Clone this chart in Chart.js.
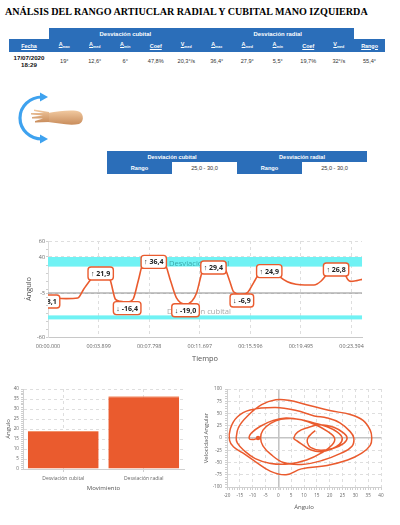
<!DOCTYPE html>
<html>
<head>
<meta charset="utf-8">
<script src="https://cdn.jsdelivr.net/npm/chart.js@4.4.0/dist/chart.umd.min.js"></script>
<style>
  body { margin:0; width:400px; height:525px; position:relative; overflow:hidden; background:#fff;
         font-family:"Liberation Sans", Arial, sans-serif; }
  .title { position:absolute; left:5px; top:6px; font-family:"Liberation Serif", serif; font-weight:bold;
           font-size:10.1px; white-space:nowrap; color:#000; }
  table { position:absolute; border-collapse:collapse; table-layout:fixed; }
  td { padding:0; text-align:center; white-space:nowrap; overflow:hidden; }
  .b { background:#2b6eb9; color:#fff; font-weight:bold; }
  .u { text-decoration:underline; }
  #t1 { left:9px; top:28px; width:376px; font-size:5.4px; }
  #t1 tr.top td { font-size:5.9px; }
  #t1 .data td { color:#333; font-size:5.6px; }
  #t1 .data td.date { color:#111; font-weight:bold; font-size:6.2px; line-height:7px; }
  #t2 { left:107px; top:151px; width:260px; font-size:5.6px; }
  #t2 td.w { background:#fff; color:#333; }
  canvas { position:absolute; }
</style>
</head>
<body>
<div class="title">ANÁLSIS DEL RANGO ARTIUCLAR RADIAL Y CUBITAL MANO IZQUIERDA</div>

<table id="t1"></table>

<svg style="position:absolute;left:12px;top:91px" width="80" height="56" viewBox="0 0 80 56">
  <defs>
    <linearGradient id="skin" x1="0" y1="0" x2="0" y2="1">
      <stop offset="0" stop-color="#f1c9a0"/>
      <stop offset="1" stop-color="#c98d5c"/>
    </linearGradient>
  </defs>
  <path d="M30 6 A22 21 0 0 0 30 48" fill="none" stroke="#3ea2ef" stroke-width="3.2"/>
  <path d="M28 1.5 L36 6 L28 10.5 Z" fill="#3ea2ef"/>
  <path d="M28 43.5 L36 48 L28 52.5 Z" fill="#3ea2ef"/>
  <path d="M36 22 C48 20 62 18 68 21 C72 24 72 31 67 33 C57 35 46 32 36 31 Z" fill="url(#skin)"/>
  <path d="M37 21 L22 18.5 L22 20 L32 22 L19 22 L19 23.6 L31 24.5 L20 26 L20 27.6 L31 27.5 L23 30 L23 31.4 L37 31 Z" fill="url(#skin)"/>
</svg>

<table id="t2"></table>

<canvas id="lineChart" width="352" height="136" style="left:18px;top:232px;width:352px;height:136px"></canvas>
<canvas id="barChart" width="200" height="115" style="left:0px;top:380px;width:200px;height:115px"></canvas>
<canvas id="phaseChart" width="200" height="135" style="left:200px;top:380px;width:200px;height:135px"></canvas>

<script>
// ---- table data ----
const dateLines = ['17/07/2020', '18:29'];
const statMain = ['A', 'A', 'A', 'Coef', 'V'];
const statSub = ['max', 'med', 'min', '', 'med'];
const cubitalStats = ['19°', '12,6°', '6°', '47,8%', '20,3°/s'];
const radialStats = ['36,4°', '27,9°', '5,5°', '19,7%', '32°/s'];
const totalRange = '55,4°';
const referenceRange = ['25,0 - 30,0', '25,0 - 30,0'];

// ---- time series (seconds, degrees) ----
const timeSec = [0, 0.77, 1.4, 2.3, 2.76, 3.25, 3.6, 4.06, 4.5, 4.8, 5.2, 5.6, 6.1, 6.55, 6.95, 7.32, 7.7, 8.15,
  8.6, 9.0, 9.45, 9.9, 10.6, 11.1, 11.45, 11.9, 12.3, 12.75, 13.2, 13.6, 14.0, 14.3, 14.94, 15.4, 15.85, 16.3,
  16.7, 17.05, 17.45, 17.85, 18.45, 19.1, 19.8, 20.5, 21.05, 21.55, 21.9, 22.2, 22.7, 23.1, 23.35, 23.8, 24.2];
const angleDeg = [-8.1, -11.5, -12, -11.2, 0, 11, 17, 21.9, 17, 11, -13, -15.5, -16.4, -13, 10, 32, 35, 36.4,
  35, 32, 10, -11, -19, -15, -5, 22, 27.5, 29.4, 28, 26, 10, -3.4, -6.9, -4, 8, 19.6,
  23, 24.9, 22, 15.5, 9, 5.9, 5, 5, 10, 19.6, 24, 26.8, 24, 12, 9.5, 10.5, 12];
const peakTimes = [0, 4.06, 6.1, 8.15, 10.6, 12.75, 14.94, 17.05, 22.2];
const peakValues = [-8.1, 21.9, -16.4, 36.4, -19.0, 29.4, -6.9, 24.9, 26.8];
const timeTicks = [0, 3.899, 7.798, 11.697, 15.596, 19.495, 23.394];
const angleTickLabels = [60, 40, -5, -60];
const radialBand = [28, 40];
const cubitalBand = [-33, -38];
const neutralAngle = -5;

// ---- bar chart ----
const movements = ['Desviación cubital', 'Desviación radial'];
const movementMax = [19, 36.4];

// ---- phase plot (angle, angular velocity) ----
const phaseAngle = [-7.9, -9.5, -11.3, -10.5, -7, -2, 3, 9, 14.5, 19, 21.9,
  21, 17, 11, 4, -3, -9, -13.5, -16, -16.4,
  -15.5, -12, -6.5, -1, 4, 11, 20, 28, 33, 35.8, 36.4,
  35.8, 32.5, 27, 19, 9, 3, -3, -9, -14, -17.5, -19,
  -18.7, -16, -11, -1, 7, 14, 19, 24, 28, 29.4,
  28.7, 24.5, 17, 9, 2, -3, -6, -6.9,
  -6, -3, 1, 7, 13.5, 19, 23, 24.9,
  23.8, 20.5, 16.5, 12.5, 9.5, 7, 6,
  7.5, 11.3, 16.4, 21.6, 25.5, 26.8,
  25.5, 21.5, 16.5, 12.5, 11.3, 11.5, 13, 14.4];
const phaseVelocity = [0, -3, -1.5, 10, 24, 36, 41, 37, 27, 14, 0,
  -14, -30, -45, -53, -52, -42, -25, -10, 0,
  22, 45, 68, 78, 77, 68, 56, 48, 36, 16, 0,
  -15, -31, -45, -56, -63, -75, -68, -48, -30, -18, -5,
  19, 43, 57, 62, 56, 45, 41, 31, 13, 0,
  -17, -31, -46, -54, -50, -33, -16, 0,
  16, 30, 38, 39, 31, 23, 12, 0,
  -13, -23, -28, -24, -14, -5, 0,
  12, 21, 27, 22, 10, 0,
  -11, -21, -25, -19, -9, 0, 9, 15];

// ---- build tables ----
const t1 = document.getElementById('t1');
let html = '<colgroup><col style="width:40px">';
for (let i = 0; i < 10; i++) html += '<col style="width:30.5px">';
html += '<col style="width:31px"></colgroup>';
html += '<tr class="top" style="height:11px"><td></td><td class="b" colspan="5">Desviación cubital</td>' +
        '<td class="b" colspan="5">Desviación radial</td><td></td></tr>';
html += '<tr style="height:13px"><td class="b"><span class="u">Fecha</span></td>';
const headCell = (m, s) => '<td class="b"><span class="u">' + m + (s ? '<sub style="font-size:3.6px">' + s + '</sub>' : '') + '</span></td>';
for (let k = 0; k < 2; k++) statMain.forEach((m, i) => { html += headCell(m, statSub[i]); });
html += '<td class="b"><span class="u">Rango</span></td></tr>';
html += '<tr class="data" style="height:17px"><td class="date">' + dateLines.join('<br>') + '</td>';
cubitalStats.concat(radialStats).forEach(v => { html += '<td>' + v + '</td>'; });
html += '<td>' + totalRange + '</td></tr>';
t1.innerHTML = html;

document.getElementById('t2').innerHTML =
  '<tr style="height:11px"><td class="b" colspan="2">' + movements[0] + '</td><td class="b" colspan="2">' + movements[1] + '</td></tr>' +
  '<tr style="height:12px"><td class="b">Rango</td><td class="w">' + referenceRange[0] + '</td>' +
  '<td class="b">Rango</td><td class="w">' + referenceRange[1] + '</td></tr>';

// ---- charts ----
const ORANGE = '#ea5b2e';
const GRID = '#dedede';
Chart.defaults.font.family = '"Open Sans", sans-serif';
Chart.defaults.color = '#666';
Chart.defaults.animation = false;

const fmtTime = v => {
  const ms = Math.round(v * 1000);
  const mm = String(Math.floor(ms / 60000)).padStart(2, '0');
  const ss = String(Math.floor(ms / 1000) % 60).padStart(2, '0');
  const mmm = String(ms % 1000).padStart(3, '0');
  return mm + ':' + ss + '.' + mmm;
};
const fmtNum = v => v.toFixed(1).replace('.', ',');

const bandPlugin = {
  id: 'bands',
  beforeDatasetsDraw(chart) {
    const { ctx, chartArea: a, scales: { y } } = chart;
    ctx.save();
    ctx.fillStyle = '#70f2f4';
    [radialBand, cubitalBand].forEach(b => {
      const y1 = y.getPixelForValue(b[0]), y2 = y.getPixelForValue(b[1]);
      ctx.fillRect(a.left, Math.min(y1, y2), a.right - a.left, Math.abs(y2 - y1));
    });
    const yn = y.getPixelForValue(neutralAngle);
    ctx.strokeStyle = '#8c8c8c';
    ctx.lineWidth = 1;
    ctx.beginPath(); ctx.moveTo(a.left, yn); ctx.lineTo(a.right, yn); ctx.stroke();
    ctx.font = '7.6px "Open Sans"';
    ctx.textAlign = 'center';
    ctx.textBaseline = 'middle';
    const cx = (a.left + a.right) / 2 - 6;
    ctx.fillStyle = '#3aa7aa';
    ctx.fillText('Desviación radial', cx, y.getPixelForValue((radialBand[0] + radialBand[1]) / 2) + 2);
    ctx.fillStyle = '#a8a8a8';
    ctx.fillText('Desviación cubital', cx, y.getPixelForValue(cubitalBand[0]) - 4);
    ctx.restore();
  }
};

const peakPlugin = {
  id: 'peaks',
  afterDatasetsDraw(chart) {
    const { ctx, chartArea: a, scales: { x, y } } = chart;
    ctx.save();
    ctx.beginPath();
    ctx.rect(a.left, a.top - 10, a.right - a.left + 10, a.bottom - a.top + 20);
    ctx.clip();
    ctx.font = 'bold 7px "Open Sans"';
    ctx.textAlign = 'center';
    ctx.textBaseline = 'middle';
    peakTimes.forEach((t, i) => {
      const v = peakValues[i];
      const txt = (v >= 0 ? '↑ ' : '↓ ') + fmtNum(v);
      const w = ctx.measureText(txt).width + 6, h = 13;
      const px = x.getPixelForValue(t), py = y.getPixelForValue(v) + (v >= 0 ? 2 : 6);
      ctx.beginPath();
      ctx.roundRect(px - w / 2, py - h / 2, w, h, 3);
      ctx.fillStyle = '#fff';
      ctx.fill();
      ctx.strokeStyle = ORANGE;
      ctx.lineWidth = 1.4;
      ctx.stroke();
      ctx.fillStyle = '#222';
      ctx.fillText(txt, px, py + 0.5);
    });
    ctx.restore();
  }
};

new Chart(document.getElementById('lineChart'), {
  type: 'line',
  data: {
    datasets: [{
      data: timeSec.map((t, i) => ({ x: t, y: angleDeg[i] })),
      borderColor: ORANGE,
      borderWidth: 1.6,
      pointRadius: 0,
      cubicInterpolationMode: 'monotone'
    }]
  },
  options: {
    responsive: false,
    layout: { padding: { top: 9, right: 7, left: 0, bottom: 0 } },
    plugins: { legend: { display: false }, tooltip: { enabled: false } },
    scales: {
      x: {
        type: 'linear', min: 0, max: 24.2,
        afterBuildTicks: s => { s.ticks = timeTicks.map(v => ({ value: v })); },
        afterFit: s => { s.height = 31; },
        ticks: { callback: v => fmtTime(v), font: { size: 5.4 }, color: '#666', maxRotation: 0, autoSkip: false, padding: 6 },
        grid: { color: GRID, drawTicks: false },
        border: { color: '#c8c8c8', dash: [3, 3] },
        title: { display: true, text: 'Tiempo', font: { size: 7.4 }, color: '#555', padding: { top: 0, bottom: 5 } }
      },
      y: {
        min: -60, max: 60,
        afterBuildTicks: s => {
          const vals = [];
          for (let v = 60; v >= -60; v -= 10) vals.push(v);
          vals.push(neutralAngle);
          s.ticks = vals.map(v => ({ value: v }));
        },
        afterFit: s => { s.width = 30; },
        ticks: {
          callback: v => angleTickLabels.includes(v) ? String(v) : '',
          font: { size: 5.4 }, color: '#666', autoSkip: false, padding: 1
        },
        grid: {
          color: c => angleTickLabels.includes(c.tick.value) ? GRID : 'rgba(0,0,0,0)',
          tickColor: '#cfcfcf', tickLength: 2
        },
        border: { color: '#dcdcdc', dash: [3, 3] },
        title: { display: true, text: 'Ángulo', font: { size: 7.4 }, color: '#555', padding: { top: 6, bottom: 0 } }
      }
    }
  },
  plugins: [bandPlugin, peakPlugin]
});

new Chart(document.getElementById('barChart'), {
  type: 'bar',
  data: {
    labels: movements,
    datasets: [{
      data: movementMax,
      backgroundColor: ORANGE,
      borderColor: '#f2926a',
      borderWidth: { top: 1, left: 0, right: 0, bottom: 0 },
      categoryPercentage: 1,
      barPercentage: 0.88
    }]
  },
  options: {
    responsive: false,
    layout: { padding: { top: 9, right: 16, left: 0, bottom: 0 } },
    plugins: { legend: { display: false }, tooltip: { enabled: false } },
    scales: {
      x: {
        afterFit: s => { s.height = 26; },
        ticks: { font: { size: 5 }, color: '#666', padding: 4 },
        grid: { offset: false, color: GRID, drawTicks: true, tickLength: 3, tickColor: '#cfcfcf' },
        border: { color: '#d0d0d0', dash: [3, 3] },
        title: { display: true, text: 'Movimiento', font: { size: 6 }, color: '#555', padding: { top: 0, bottom: 3 } }
      },
      y: {
        min: 0, max: 40,
        afterFit: s => { s.width = 23; },
        ticks: {
          stepSize: 1, autoSkip: false,
          callback: v => v % 5 === 0 ? String(v) : '',
          font: { size: 4.6 }, color: '#666', padding: 2
        },
        grid: {
          color: c => c.tick.value % 5 === 0 ? GRID : 'rgba(0,0,0,0)',
          tickColor: '#cfcfcf', tickLength: 2
        },
        border: { color: '#d0d0d0', dash: [3, 3] },
        title: { display: true, text: 'Ángulo', font: { size: 6 }, color: '#555', padding: { top: 5, bottom: 0 } }
      }
    }
  }
});

new Chart(document.getElementById('phaseChart'), {
  type: 'scatter',
  data: {
    datasets: [{
      data: phaseAngle.map((a, i) => ({ x: a, y: phaseVelocity[i] })),
      showLine: true,
      tension: 0.4,
      borderColor: ORANGE,
      borderWidth: 1.5,
      backgroundColor: ORANGE,
      pointRadius: c => c.dataIndex === 0 ? 1.5 : 0
    }]
  },
  options: {
    responsive: false,
    layout: { padding: { top: 9, right: 19, left: 0, bottom: 0 } },
    plugins: { legend: { display: false }, tooltip: { enabled: false } },
    scales: {
      x: {
        min: -20, max: 40,
        afterFit: s => { s.height = 28; },
        ticks: {
          stepSize: 1, autoSkip: false, maxRotation: 0,
          callback: v => v % 5 === 0 ? String(v) : '',
          font: { size: 4.6 }, color: '#666', padding: 3
        },
        grid: {
          color: c => c.tick.value === 0 ? '#c4c4c4' : (c.tick.value % 5 === 0 ? GRID : 'rgba(0,0,0,0)'),
          lineWidth: c => c.tick.value === 0 ? 1.6 : 1,
          tickColor: '#cfcfcf', tickLength: 3
        },
        border: { color: '#d0d0d0', dash: c => (c.tick && c.tick.value === 0) ? [] : [3, 3] },
        title: { display: true, text: 'Ángulo', font: { size: 6 }, color: '#555', padding: { top: 0, bottom: 4 } }
      },
      y: {
        min: -100, max: 100,
        afterFit: s => { s.width = 27; },
        ticks: {
          stepSize: 5, autoSkip: false,
          callback: v => v % 25 === 0 ? String(v) : '',
          font: { size: 4.6 }, color: '#666', padding: 3
        },
        grid: {
          color: c => c.tick.value === 0 ? '#c4c4c4' : (c.tick.value % 25 === 0 ? GRID : 'rgba(0,0,0,0)'),
          lineWidth: c => c.tick.value === 0 ? 1.6 : 1,
          tickColor: '#cfcfcf', tickLength: 2
        },
        border: { color: '#d0d0d0', dash: c => (c.tick && c.tick.value === 0) ? [] : [3, 3] },
        title: { display: true, text: 'Velocidad Angular', font: { size: 6 }, color: '#555', padding: { top: 3, bottom: 0 } }
      }
    }
  }
});
</script>
</body>
</html>
